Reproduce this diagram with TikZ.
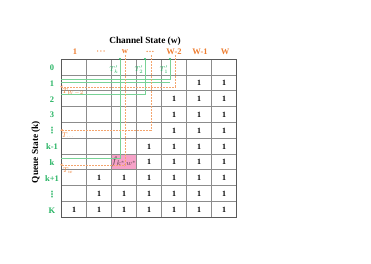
\documentclass[tikz,border=0pt]{standalone}
\usepackage{amsmath,amssymb}
\usepackage{fontspec}
\setmainfont{Liberation Serif}
\newfontfamily\dvsans{DejaVu Sans}
\usepackage{tikz}
\usetikzlibrary{arrows.meta,positioning,calc}
\definecolor{orng}{RGB}{237,125,49}
\definecolor{lorng}{RGB}{244,165,110}
\definecolor{grn}{RGB}{40,180,100}
\definecolor{lgrn}{RGB}{120,210,150}
\definecolor{pnk}{RGB}{246,162,200}
\definecolor{gridg}{RGB}{140,140,140}
\definecolor{frameg}{RGB}{90,90,90}

\begin{document}
\begin{tikzpicture}[x=1pt,y=-1pt,
      >={Stealth[length=3pt,width=2.6pt]},
      one/.style={font=\fontsize{8}{9}\selectfont\bfseries,inner sep=1pt},
      collab/.style={font=\fontsize{8.5}{10}\selectfont\bfseries,color=orng,inner sep=1pt},
      rowlab/.style={font=\fontsize{8.5}{10}\selectfont\bfseries,color=grn,inner sep=0.5pt},
      vdt/.style={rowlab,font=\fontsize{8.5}{9}\selectfont\dvsans\bfseries},
      axlab/.style={font=\fontsize{9.3}{11}\selectfont\bfseries},
      tlab/.style={font=\fontsize{7.5}{8}\selectfont,inner sep=0.3pt},
      gpath/.style={draw=lgrn,line width=0.8pt},
      opath/.style={->,draw=lorng,line width=0.6pt,dash pattern=on 2pt off 1pt},
    ]
    \useasboundingbox (0,0) rectangle (371,263);
    % highlighted cell
    \fill[pnk] (111,153.8) rectangle (136,169.6);
    \node[font=\fontsize{10.5}{11}\selectfont,color=black!75!magenta,inner sep=0.5pt] (F) at (124,162) {$f_{k^*\!,w^*}$};
    % table
    \foreach \i in {1,...,6} \draw[gridg,line width=0.5pt] (61+25*\i,59) -- (61+25*\i,217);
    \foreach \j in {1,...,9} \draw[gridg,line width=0.5pt] (61,59+15.8*\j) -- (236,59+15.8*\j);
    \draw[frameg,line width=1pt] (61,59) rectangle (236,217);
    \foreach \r/\c in {1/6,2/5,3/5,4/5,5/4,6/4,7/2,8/2,9/1}
      \foreach \cc in {\c,...,7}
        \node[one] (e\r\cc) at (61+25*\cc-12,59+15.8*\r+8.4) {1};
    % axes
    \node[axlab] (CS) at (145,41) {Channel State (w)};
    \node[axlab,rotate=90] (QS) at (36,152) {Queue State (k)};
    \node[collab] (w1) at (75,52) {1};
    \node[collab] (w2) at (101,52) {$\boldsymbol{\cdot\!\cdot\!\cdot}$};
    \node[collab] (w3) at (125,52) {w};
    \node[collab] (w4) at (150,52) {\ldots};
    \node[collab] (w5) at (174,52) {W-2};
    \node[collab] (w6) at (200,52) {W-1};
    \node[collab] (w7) at (225,52) {W};
    \node[rowlab] (k0) at (52,68)  {0};
    \node[rowlab] (k1) at (52,84)  {1};
    \node[rowlab] (k2) at (52,100) {2};
    \node[rowlab] (k3) at (52,115) {3};
    \node[vdt] (k4) at (52,131) {⋮};
    \node[rowlab] (k5) at (52,147) {k-1};
    \node[rowlab] (k6) at (52,163) {k};
    \node[rowlab] (k7) at (52,179) {k+1};
    \node[vdt] (k8) at (52,195) {⋮};
    \node[rowlab] (k9) at (52,211) {K};
    % green paths
    \coordinate (gkT) at (120,59); \coordinate (gkL) at (61,158.5);
    \coordinate (g2T) at (145,59); \coordinate (g2L) at (61,94.3);
    \coordinate (g1T) at (170,59); \coordinate (g1L) at (61,79.4);
    \coordinate (g0R) at (170,82.2); \coordinate (g0L) at (61,82.2);
    \draw[gpath] (gkT) |- (gkL);
    \draw[gpath] (g2T) |- (g2L);
    \draw[gpath] (g1T) |- (g1L);
    \draw[gpath] (g0R) -- (g0L);
    \foreach \p in {gkT,g2T,g1T} \fill[grn] (\p) circle (1.1pt);
    \node[tlab,color=grn] (tk) at (114,70) {$T'_k$};
    \node[tlab,color=grn] (t2) at (139,70) {$T'_2$};
    \node[tlab,color=grn] (t1) at (164,70) {$T'_1$};
    % orange paths
    \coordinate (owT) at (125,55); \coordinate (owL) at (60,164.8);
    \coordinate (odT) at (151,55); \coordinate (odL) at (60,130.2);
    \coordinate (oaT) at (175,55); \coordinate (oaL) at (60,86.8);
    \draw[opath] (owT) |- (owL);
    \draw[opath] (odT) |- (odL);
    \draw[opath] (oaT) |- (oaL);
    \node[tlab,color=orng] (Tw) at (68,170.5) {$T_w$};
    \node[tlab,color=orng] (Td) at (68,136) {$T_{\cdots}$};
    \node[tlab,color=orng] (Ta) at (73,92.5) {$T_{W-2}$};
  \end{tikzpicture}
\end{document}
